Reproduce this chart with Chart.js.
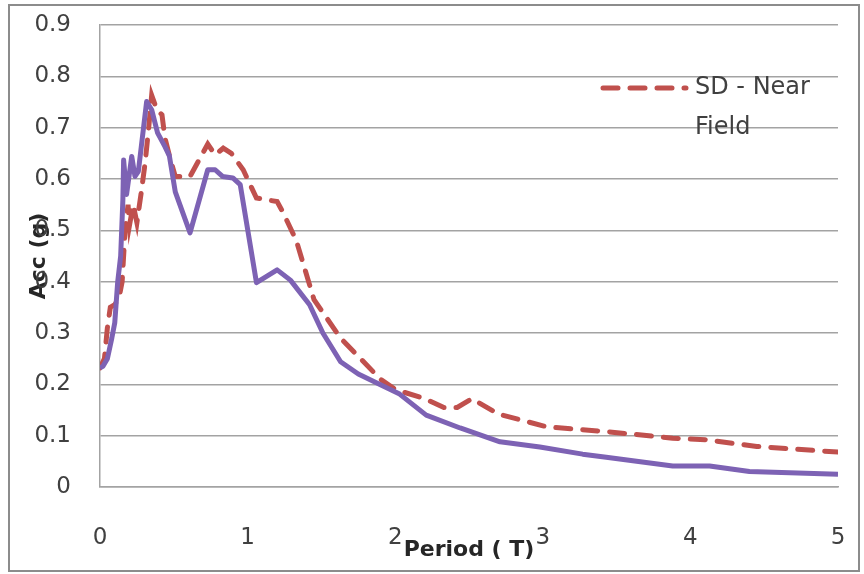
<!DOCTYPE html>
<html lang="en">
<head>
    <meta charset="UTF-8">
    <title>Acc (g) - Period (T)</title>
    <script src="https://cdn.jsdelivr.net/npm/chart.js"></script>
    <style>
        html, body { margin: 0; padding: 0; background: #fff; }
    </style>
</head>
<body>
    <canvas id="myChart" width="864" height="574"></canvas>

    <script>
        // perioder og værdier
        const periodsMean = [0, 0.02, 0.05, 0.08, 0.10, 0.12, 0.14, 0.155, 0.16, 0.18, 0.215, 0.237, 0.26, 0.316,
            0.35, 0.39, 0.44, 0.47, 0.51, 0.61, 0.73, 0.78, 0.83, 0.90, 0.95, 1.06, 1.20, 1.29, 1.42, 1.51,
            1.63, 1.75, 1.90, 2.03, 2.21, 2.44, 2.71, 2.98, 3.27, 3.43, 3.88, 4.13, 4.40, 5.0];
        const accMean = [0.232, 0.235, 0.25, 0.29, 0.32, 0.40, 0.45, 0.56, 0.637, 0.57, 0.644, 0.605, 0.615, 0.751,
            0.735, 0.69, 0.663, 0.645, 0.575, 0.495, 0.618, 0.618, 0.605, 0.602, 0.589, 0.398, 0.423, 0.403, 0.355, 0.30,
            0.244, 0.22, 0.199, 0.181, 0.14, 0.115, 0.088, 0.078, 0.064, 0.058, 0.041, 0.041, 0.03, 0.025];

        const periodsSD = [0, 0.03, 0.05, 0.07, 0.10, 0.13, 0.15, 0.17, 0.19, 0.20, 0.225, 0.25, 0.28, 0.305,
            0.33, 0.35, 0.385, 0.42, 0.44, 0.475, 0.51, 0.61, 0.73, 0.78, 0.835, 0.89, 0.97, 1.06, 1.20, 1.24,
            1.33, 1.45, 1.63, 1.90, 2.00, 2.20, 2.33, 2.42, 2.52, 2.70, 3.03, 3.43, 3.88, 4.11, 4.45, 5.0];
        const accSD = [0.232, 0.25, 0.31, 0.35, 0.355, 0.37, 0.40, 0.50, 0.55, 0.51, 0.55, 0.515, 0.575, 0.63,
            0.70, 0.763, 0.735, 0.725, 0.68, 0.64, 0.605, 0.605, 0.668, 0.647, 0.66, 0.65, 0.618, 0.563, 0.556, 0.535,
            0.48, 0.365, 0.29, 0.21, 0.19, 0.172, 0.155, 0.155, 0.172, 0.142, 0.117, 0.108, 0.095, 0.092, 0.079, 0.068];

        const xTickLabels = ['0', '1', '2', '3', '4', '5'];
        const yTickLabels = ['0', '0.1', '0.2', '0.3', '0.4', '0.5', '0.6', '0.7', '0.8', '0.9'];

        const gridColor = '#a3a3a3';
        const textColor = '#404040';
        const fontName = '"DejaVu Sans", sans-serif';

        // ramme om hele figuren og forklaringen oppe til højre
        const frameAndLegend = {
            id: 'frameAndLegend',
            beforeDraw(chart) {
                const ctx = chart.ctx;
                ctx.save();
                ctx.fillStyle = '#fff';
                ctx.fillRect(0, 0, chart.width, chart.height);
                ctx.strokeStyle = '#8c8c8c';
                ctx.lineWidth = 2;
                ctx.strokeRect(9, 5, chart.width - 14, chart.height - 8);
                ctx.restore();
            },
            afterDatasetsDraw(chart) {
                const ctx = chart.ctx;
                const ds = chart.data.datasets[1];
                ctx.save();
                ctx.strokeStyle = ds.borderColor;
                ctx.lineWidth = ds.borderWidth;
                ctx.lineCap = 'round';
                ctx.setLineDash(ds.borderDash);
                ctx.beginPath();
                ctx.moveTo(603, 88);
                ctx.lineTo(686, 88);
                ctx.stroke();
                ctx.setLineDash([]);
                ctx.fillStyle = textColor;
                ctx.font = '24px ' + fontName;
                ctx.textBaseline = 'middle';
                ctx.fillText('SD - Near', 695, 88);
                ctx.fillText('Field', 695, 128);
                ctx.restore();
            }
        };

        const ctx = document.getElementById('myChart').getContext('2d');
        const myChart = new Chart(ctx, {
            type: 'line',
            data: {
                datasets: [{
                    label: 'Mean - Near Field',
                    data: periodsMean.map((t, i) => ({ x: t, y: accMean[i] })),
                    borderColor: '#7d62b4',
                    borderWidth: 5,
                    pointRadius: 0,
                    tension: 0,
                    borderJoinStyle: 'round'
                }, {
                    label: 'SD - Near Field',
                    data: periodsSD.map((t, i) => ({ x: t, y: accSD[i] })),
                    borderColor: '#c0504d',
                    borderWidth: 5,
                    borderDash: [15, 12],
                    borderCapStyle: 'round',
                    pointRadius: 0,
                    tension: 0
                }]
            },
            options: {
                responsive: false,
                animation: false,
                layout: { padding: { left: 0, top: 25, right: 26, bottom: 0 } },
                plugins: {
                    legend: { display: false },
                    tooltip: { enabled: false }
                },
                scales: {
                    x: {
                        type: 'linear',
                        min: 0,
                        max: 5,
                        ticks: {
                            stepSize: 1,
                            padding: 0,
                            color: textColor,
                            font: { family: fontName, size: 23 },
                            callback: (v, i) => xTickLabels[i]
                        },
                        // usynlige tick-streger giver afstanden ned til tallene
                        grid: { display: false, drawTicks: true, tickLength: 37, tickColor: 'rgba(0,0,0,0)' },
                        border: { display: true, color: gridColor, width: 1.5 },
                        title: {
                            display: true,
                            text: 'Period ( T)',
                            color: '#262626',
                            font: { family: fontName, size: 22, weight: 'bold' },
                            padding: { top: 0, bottom: 11 }
                        },
                        afterFit: s => { s.height = 87; }
                    },
                    y: {
                        min: 0,
                        max: 0.9,
                        ticks: {
                            stepSize: 0.1,
                            padding: 0,
                            color: textColor,
                            font: { family: fontName, size: 23 },
                            callback: (v, i) => yTickLabels[i]
                        },
                        grid: { color: gridColor, lineWidth: 1.5, drawTicks: true, tickLength: 29, tickColor: 'rgba(0,0,0,0)' },
                        border: { display: true, color: gridColor, width: 1.5 },
                        title: {
                            display: true,
                            text: 'Acc (g)',
                            color: '#262626',
                            font: { family: fontName, size: 22, weight: 'bold' },
                            padding: { top: 26, bottom: 0 }
                        },
                        afterFit: s => { s.width = 100; }
                    }
                }
            },
            plugins: [frameAndLegend]
        });
    </script>
</body>
</html>
